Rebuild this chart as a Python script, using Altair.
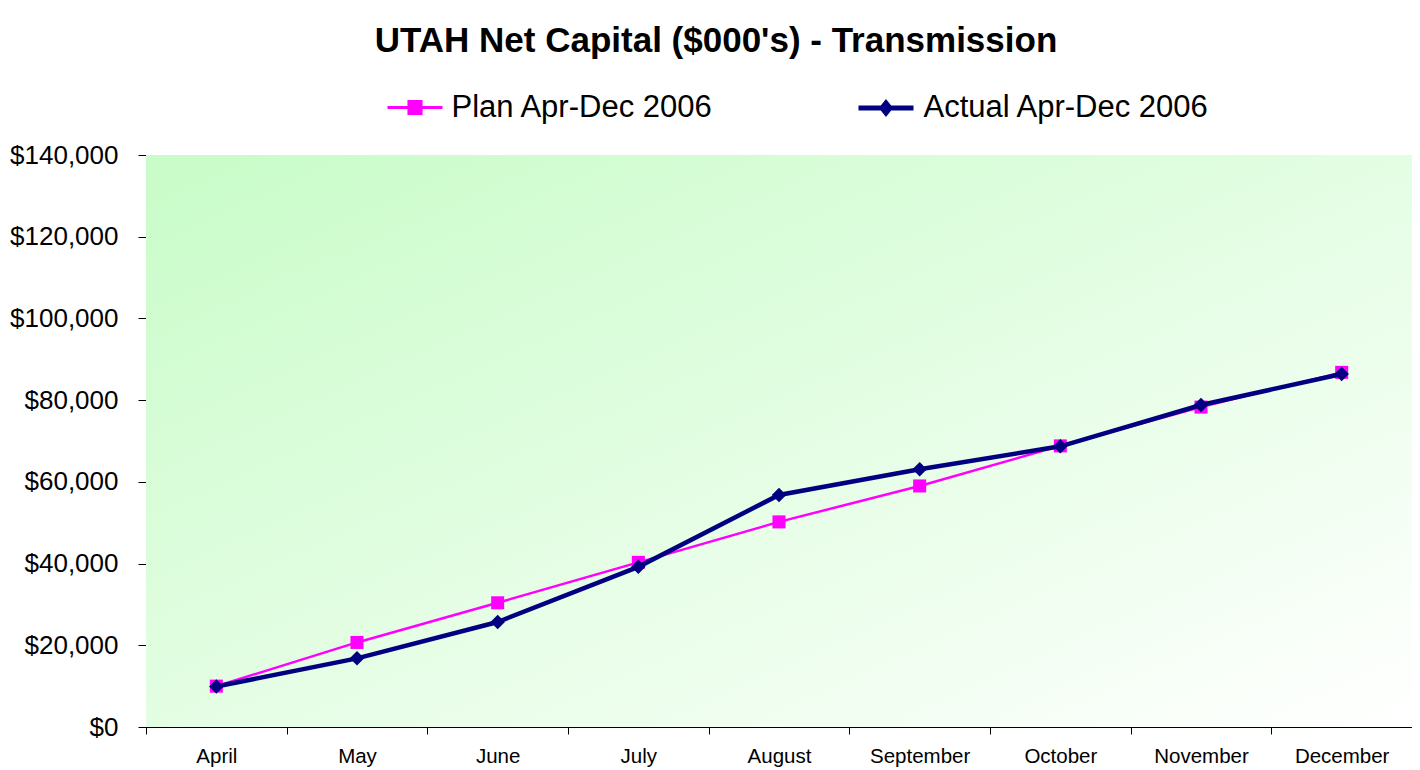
import altair as alt
import pandas as pd

months = ["April", "May", "June", "July", "August", "September", "October", "November", "December"]
plan = [10000, 20700, 30400, 40300, 50200, 59000, 68800, 78300, 86800]
actual = [9900, 16800, 25700, 39200, 56800, 63100, 68700, 78800, 86400]
series_names = ["Plan Apr-Dec 2006", "Actual Apr-Dec 2006"]
series_colors = ["#ff00ff", "#000080"]
legend_widths = [3, 5]
y_ticks = [0, 20000, 40000, 60000, 80000, 100000, 120000, 140000]

rows = []
for s, vals in zip(series_names, [plan, actual]):
    for m, v in zip(months, vals):
        rows.append({"month": m, "series": s, "value": v})
df = pd.DataFrame(rows)

FONT = "Liberation Sans"

x_enc = alt.X(
    "month:N",
    sort=months,
    bandPosition=0.5,
    scale=alt.Scale(type="band", paddingInner=0, paddingOuter=0),
    axis=alt.Axis(
        title=None, labelAngle=0, tickBand="extent", labelFontSize=20.5,
        labelFont=FONT, labelColor="black", tickColor="black", tickSize=7,
        domainColor="black", labelPadding=12, grid=False,
    ),
)
y_enc = alt.Y(
    "value:Q",
    scale=alt.Scale(domain=[0, 140000], nice=False),
    axis=alt.Axis(
        title=None, values=y_ticks, format="$,.0f", labelFontSize=26,
        labelFont=FONT, labelColor="black", tickColor="black", tickSize=8,
        labelPadding=20, domainColor="black", gridColor="black",
        gridWidth=1, gridOpacity=0.8,
    ),
)

bg = alt.Chart(pd.DataFrame({"bg": [0]})).mark_rect(
    color=alt.LinearGradient(
        gradient="linear", x1=0, y1=0, x2=1, y2=1,
        stops=[alt.GradientStop(offset=0, color="#c8fcc8"),
               alt.GradientStop(offset=1, color="#ffffff")],
    ),
    opacity=1,
).encode(x=alt.value(0), x2=alt.value("width"), y=alt.value(0), y2=alt.value("height"))

base = alt.Chart(df)

plan_line = base.transform_filter(alt.datum.series == series_names[0]).mark_line(
    color=series_colors[0], strokeWidth=2.5
).encode(x=x_enc, y=y_enc)
plan_pts = base.transform_filter(alt.datum.series == series_names[0]).mark_point(
    shape="square", filled=True, color=series_colors[0], size=170, opacity=1
).encode(x=x_enc, y=y_enc)
act_line = base.transform_filter(alt.datum.series == series_names[1]).mark_line(
    color=series_colors[1], strokeWidth=4.5
).encode(x=x_enc, y=y_enc)
act_pts = base.transform_filter(alt.datum.series == series_names[1]).mark_point(
    shape="diamond", filled=True, color=series_colors[1], size=210, opacity=1
).encode(x=x_enc, y=y_enc)

legend_layer = base.transform_filter("datum.value < 0").mark_point(
    filled=True, opacity=1
).encode(
    color=alt.Color(
        "series:N",
        scale=alt.Scale(domain=series_names, range=series_colors),
        legend=alt.Legend(
            title=None, orient="none", legendX=240, legendY=-77,
            direction="horizontal", labelFontSize=31, labelFont=FONT,
            labelColor="black", labelOffset=7.5, columnPadding=134,
            symbolSize=3025, labelLimit=600, padding=0,
            symbolOpacity=1,
        ),
    ),
    stroke=alt.Stroke(
        "series:N",
        scale=alt.Scale(domain=series_names, range=series_colors),
    ),
    strokeWidth=alt.StrokeWidth(
        "series:O",
        scale=alt.Scale(domain=series_names, range=legend_widths),
    ),
    shape=alt.Shape(
        "series:N",
        scale=alt.Scale(
            domain=series_names,
            range=[
                "M-1,0H1M-0.22,-0.22H0.22V0.22H-0.22Z",
                "M-1,0H1M0,-0.18L0.145,0L0,0.18L-0.145,0Z",
            ],
        ),
    ),
)

chart = alt.layer(bg, plan_line, plan_pts, act_line, act_pts, legend_layer).properties(
    width=1266,
    height=572,
    autosize=alt.AutoSizeParams(type="none"),
    padding={"left": 138, "top": 147, "right": 0, "bottom": 45},
    title=alt.TitleParams(
        "UTAH Net Capital ($000's) - Transmission",
        fontSize=35, font=FONT, fontWeight="bold", color="black",
        anchor="middle", frame="group", dx=-63, offset=19,
    ),
).configure_view(
    stroke="#808080",
    strokeWidth=2,
).configure(background="white")

chart.save("out.html", embed_options={"renderer": "svg", "actions": False})
